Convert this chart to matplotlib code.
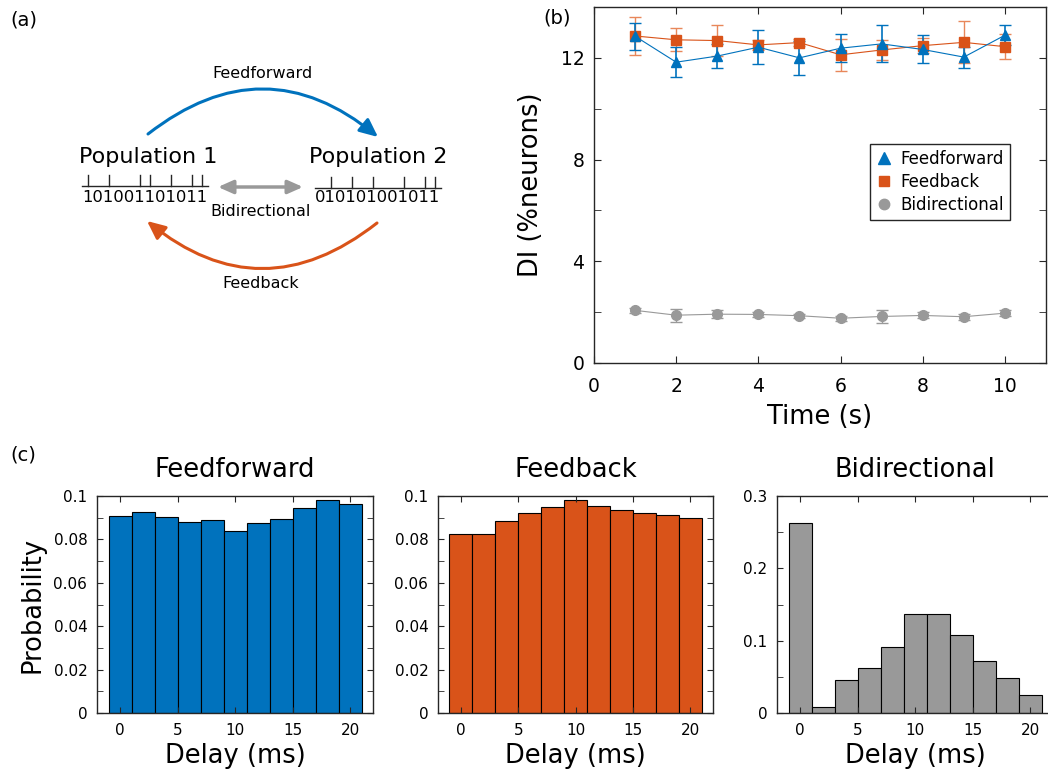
import numpy as np
import matplotlib
matplotlib.use("Agg")
import matplotlib.pyplot as plt
from matplotlib.patches import FancyArrowPatch
from matplotlib.lines import Line2D
from matplotlib.ticker import MultipleLocator, FuncFormatter

# ---- data ----
time_s = [1, 2, 3, 4, 5, 6, 7, 8, 9, 10]
di_ff = [12.85, 11.83, 12.07, 12.42, 12.0, 12.38, 12.55, 12.33, 12.03, 12.89]
di_ff_err = [0.53, 0.6, 0.48, 0.68, 0.67, 0.55, 0.73, 0.55, 0.41, 0.4]
di_fb = [12.86, 12.71, 12.68, 12.51, 12.6, 12.12, 12.31, 12.48, 12.61, 12.44]
di_fb_err = [0.75, 0.45, 0.6, 0.2, 0.15, 0.62, 0.4, 0.3, 0.82, 0.49]
di_bi = [2.07, 1.88, 1.92, 1.91, 1.86, 1.76, 1.83, 1.87, 1.82, 1.96]
di_bi_err = [0.1, 0.25, 0.15, 0.1, 0.08, 0.1, 0.25, 0.12, 0.12, 0.12]

delay_ms = [0, 2, 4, 6, 8, 10, 12, 14, 16, 18, 20]
prob_ff = [0.0908, 0.0928, 0.0903, 0.0882, 0.0891, 0.0838, 0.0874, 0.0894, 0.0946, 0.098, 0.0965]
prob_fb = [0.0825, 0.0825, 0.0883, 0.0923, 0.0951, 0.0982, 0.0952, 0.0935, 0.0922, 0.0912, 0.09]
prob_bi = [0.262, 0.0088, 0.046, 0.0628, 0.0909, 0.137, 0.137, 0.1085, 0.0725, 0.049, 0.0245]

spikes_pop1 = "101001101011"
spikes_pop2 = "010101001011"

BLUE = "#0072BD"
ORANGE = "#D95319"
GRAY = "#999999"
AXC = "#262626"

plt.rcParams["font.family"] = "DejaVu Sans"

W, H = 1048, 774
fig = plt.figure(figsize=(W / 100, H / 100), dpi=100)


def px_axes(left, top, right, bottom):
    return fig.add_axes([left / W, 1 - bottom / H, (right - left) / W, (bottom - top) / H])


def matlab_style(ax, labelsize):
    for s in ax.spines.values():
        s.set_color(AXC)
        s.set_linewidth(1.0)
    ax.tick_params(which="both", direction="in", top=True, right=True,
                   color=AXC, labelsize=labelsize, pad=7)
    ax.tick_params(which="major", length=5)
    ax.tick_params(which="minor", length=5)


fmt = FuncFormatter(lambda v, p: "%g" % round(v, 4))

# ---- (a) diagram ----
ax_a = fig.add_axes([0, 1 - 320 / H, 470 / W, 320 / H])
ax_a.set_xlim(0, 470)
ax_a.set_ylim(320, 0)
ax_a.axis("off")

ax_a.text(263, 74, "Feedforward", ha="center", va="center", fontsize=11.5)
ax_a.text(148, 157, "Population 1", ha="center", va="center", fontsize=16)
ax_a.text(378, 157, "Population 2", ha="center", va="center", fontsize=16)
ax_a.text(261, 212, "Bidirectional", ha="center", va="center", fontsize=11.5)
ax_a.text(261, 284, "Feedback", ha="center", va="center", fontsize=11.5)

t1 = ax_a.text(145, 197, spikes_pop1, ha="center", va="center", fontsize=11.8)
t2 = ax_a.text(378, 198, spikes_pop2, ha="center", va="center", fontsize=11.8)
fig.canvas.draw()
inv = ax_a.transData.inverted()
for t, ybase in [(t1, 186.5), (t2, 188)]:
    bb = t.get_window_extent()
    (x0, _), (x1, _) = inv.transform([[bb.x0, bb.y0], [bb.x1, bb.y1]])
    s = t.get_text()
    step = (x1 - x0) / len(s)
    ax_a.plot([x0, x1], [ybase, ybase], color=AXC, lw=1.0)
    for i, ch in enumerate(s):
        if ch == "1":
            xc = x0 + (i + 0.5) * step
            ax_a.plot([xc, xc], [ybase - 11, ybase], color=AXC, lw=1.0)

ax_a.add_patch(FancyArrowPatch((148, 134), (378, 137), connectionstyle="arc3,rad=-0.4",
                               arrowstyle="-|>,head_length=11,head_width=5",
                               color=BLUE, lw=2.2, shrinkA=0, shrinkB=0))
ax_a.add_patch(FancyArrowPatch((377, 223), (147, 221), connectionstyle="arc3,rad=-0.4",
                               arrowstyle="-|>,head_length=11,head_width=5",
                               color=ORANGE, lw=2.2, shrinkA=0, shrinkB=0))
ax_a.add_patch(FancyArrowPatch((218, 187), (303, 187),
                               arrowstyle="<|-|>,head_length=9,head_width=4",
                               color=GRAY, lw=2.5, shrinkA=0, shrinkB=0))

fig.text(10 / W, 1 - 20 / H, "(a)", fontsize=14, va="center", ha="left")
fig.text(543 / W, 1 - 18 / H, "(b)", fontsize=14, va="center", ha="left")
fig.text(10 / W, 1 - 455 / H, "(c)", fontsize=14, va="center", ha="left")

# ---- (b) DI over time ----
ax_b = px_axes(594, 7, 1046, 363)
ax_b.errorbar(time_s, di_fb, yerr=di_fb_err, color=ORANGE, marker="s", ms=7,
              lw=0.8, elinewidth=1.0, capsize=4, ecolor="#E8875A")
ax_b.errorbar(time_s, di_ff, yerr=di_ff_err, color=BLUE, marker="^", ms=7.5,
              lw=0.8, elinewidth=1.2, capsize=4)
ax_b.errorbar(time_s, di_bi, yerr=di_bi_err, color=GRAY, marker="o", ms=7,
              lw=0.8, elinewidth=1.0, capsize=4)
ax_b.set_xlim(0, 11)
ax_b.set_ylim(0, 14)
ax_b.xaxis.set_major_locator(MultipleLocator(2))
ax_b.yaxis.set_major_locator(MultipleLocator(4))
ax_b.yaxis.set_minor_locator(MultipleLocator(2))
matlab_style(ax_b, 13.5)
ax_b.tick_params(axis="x", pad=10)
ax_b.set_xlabel("Time (s)", fontsize=18.5, labelpad=6)
ax_b.set_ylabel("DI (%neurons)", fontsize=18.5, labelpad=12)

handles = [Line2D([], [], color=BLUE, marker="^", ls="none", ms=8),
           Line2D([], [], color=ORANGE, marker="s", ls="none", ms=7.5),
           Line2D([], [], color=GRAY, marker="o", ls="none", ms=7.5)]
leg = ax_b.legend(handles, ["Feedforward", "Feedback", "Bidirectional"],
                  loc="upper left", bbox_to_anchor=(0.61, 0.615), fontsize=12,
                  fancybox=False, framealpha=1, edgecolor=AXC, handlelength=1.0,
                  handletextpad=0.5, borderpad=0.35, labelspacing=0.3,
                  borderaxespad=0)
leg.get_frame().set_linewidth(1.0)

# ---- (c) delay histograms ----
hist_panels = [
    (97, 373, prob_ff, BLUE, "Feedforward", 0.1, 0.02, 0.01),
    (438, 713, prob_fb, ORANGE, "Feedback", 0.1, 0.02, 0.01),
    (777, 1053, prob_bi, GRAY, "Bidirectional", 0.3, 0.1, 0.05),
]
for i, (l, r, vals, col, title, ymax, maj, mnr) in enumerate(hist_panels):
    ax = px_axes(l, 496, r, 713)
    ax.bar(delay_ms, vals, width=2, color=col, edgecolor="black", linewidth=0.8)
    ax.set_xlim(-2, 22)
    ax.set_ylim(0, ymax)
    ax.xaxis.set_major_locator(MultipleLocator(5))
    ax.yaxis.set_major_locator(MultipleLocator(maj))
    ax.yaxis.set_minor_locator(MultipleLocator(mnr))
    ax.yaxis.set_major_formatter(fmt)
    matlab_style(ax, 11)
    ax.tick_params(which="both", length=4)
    if i == 2:
        # panel runs past the right edge of the figure
        ax.tick_params(which="both", right=False)
    ax.set_title(title, fontsize=18.5, pad=14)
    ax.set_xlabel("Delay (ms)", fontsize=18.5, labelpad=4)
    if i == 0:
        ax.set_ylabel("Probability", fontsize=18.5, labelpad=6)

fig.savefig("out.png", dpi=100)
